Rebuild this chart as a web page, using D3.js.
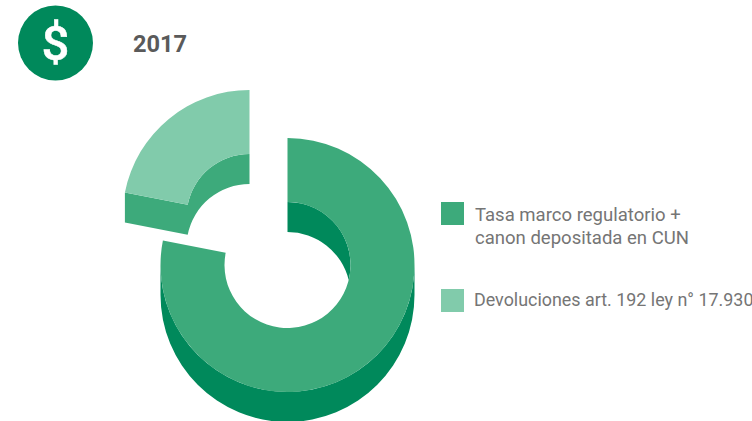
<!DOCTYPE html>
<html><head><meta charset="utf-8">
<script src="https://cdn.jsdelivr.net/npm/d3@7"></script>
<style>html,body{margin:0;background:#fff}svg{display:block}text{font-family:Roboto,sans-serif}</style>
</head><body><svg id="c" width="752" height="421"></svg>
<script>
const title = "2017";
const categories = ["Tasa marco regulatorio +\ncanon depositada en CUN", "Devoluciones art. 192 ley n° 17.930"];
const shares = [78.1, 21.9];
const faceColors = ["#3daa7b", "#81cbab"];
const wallColors = ["#00895b", "#3daa7b"];

const svg = d3.select("#c");
const R = 127, r = 63, depth = 30;
const centers = [[287.5, 265], [249.5, 217]];
const pie = d3.pie().sort(null)(shares);
const arc = d3.arc().innerRadius(r).outerRadius(R);
const canvas = a => a - Math.PI / 2; // d3.arc angle -> d3.path angle

// header
svg.append("circle").attr("cx", 55.5).attr("cy", 43).attr("r", 37.5).attr("fill", "#00895b");
svg.append("text").attr("x", 55.5).attr("y", 60).attr("text-anchor", "middle")
  .attr("font-size", 49).attr("font-weight", 500).attr("stroke", "#fff").attr("stroke-width", 0.5)
  .attr("fill", "#fff").text("$");
svg.append("text").attr("x", 133).attr("y", 52).attr("font-size", 23.6).attr("font-weight", 700)
  .attr("fill", "#5a5a5a").text(title);

// main slice: outer wall, inner wall, face
const g0 = svg.append("g").attr("transform", `translate(${centers[0]})`);
const outerWall = d3.path();
outerWall.arc(0, 0, R, 0, Math.PI);
outerWall.arc(0, depth, R, Math.PI, 0, true);
outerWall.closePath();
g0.append("path").attr("d", outerWall.toString()).attr("fill", wallColors[0]);
const meet = Math.asin(depth / 2 / r);
const innerWall = d3.path();
innerWall.arc(0, 0, r, canvas(pie[0].startAngle), meet);
innerWall.arc(0, depth, r, -meet, canvas(pie[0].startAngle), true);
innerWall.closePath();
g0.append("path").attr("d", innerWall.toString()).attr("fill", wallColors[0]);
g0.append("path").attr("d", arc(pie[0])).attr("fill", faceColors[0]);

// detached slice: inner wall, cut face, top face
const g1 = svg.append("g").attr("transform", `translate(${centers[1]})`);
const a0 = canvas(pie[1].startAngle), a1 = canvas(pie[1].endAngle);
const wall = d3.path();
wall.arc(0, 0, r, a1, a0, true);
wall.lineTo(R * Math.cos(a0), R * Math.sin(a0));
wall.lineTo(R * Math.cos(a0), R * Math.sin(a0) + depth);
wall.lineTo(r * Math.cos(a0), r * Math.sin(a0) + depth);
wall.arc(0, depth, r, a0, a1);
wall.closePath();
g1.append("path").attr("d", wall.toString()).attr("fill", wallColors[1]);
g1.append("path").attr("d", arc(pie[1])).attr("fill", faceColors[1]);

// legend
const swatchY = [202, 289];
const fontSizes = [18.55, 17.9];
const textX = [475, 474];
categories.forEach((c, i) => {
  svg.append("rect").attr("x", 441).attr("y", swatchY[i]).attr("width", 23).attr("height", 23).attr("fill", faceColors[i]);
  c.split("\n").forEach((t, j) => {
    svg.append("text").attr("x", textX[i]).attr("y", (i ? 306 : 221) + j * 23)
      .attr("font-size", fontSizes[i]).attr("fill", "#757575").text(t);
  });
});
</script></body></html>
